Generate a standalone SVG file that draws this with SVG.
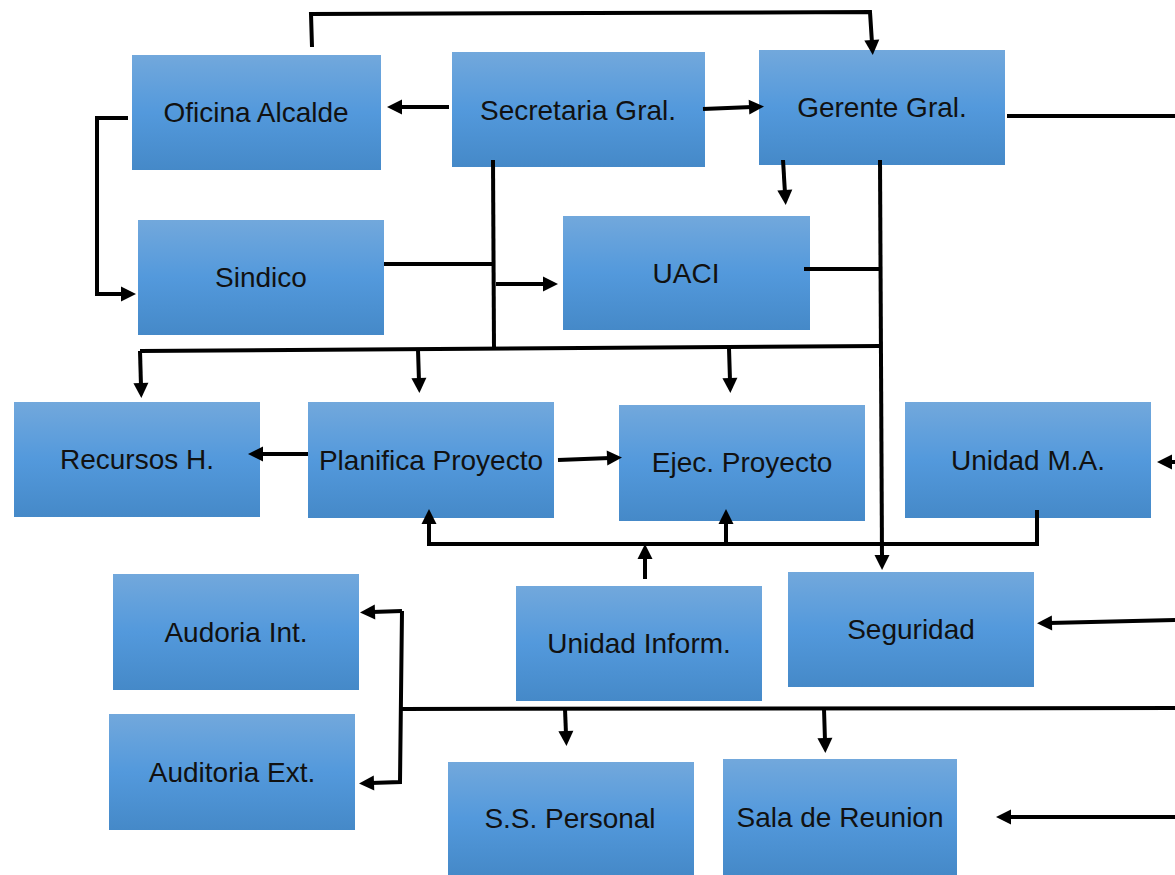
<svg xmlns="http://www.w3.org/2000/svg" width="1175" height="875" viewBox="0 0 1175 875">
<style>
.box{fill:url(#g);}
.t{font-family:"Liberation Sans",Arial,sans-serif;font-size:28px;fill:#111;text-anchor:middle;}
.c{fill:none;stroke:#000;stroke-width:4;}
.a{marker-end:url(#ah);}
</style>
<defs>
<linearGradient id="g" x1="0" y1="0" x2="0" y2="1">
<stop offset="0" stop-color="#72a8dc"/>
<stop offset="0.5" stop-color="#5399dc"/>
<stop offset="1" stop-color="#4589c8"/>
</linearGradient>
<marker id="ah" viewBox="0 0 10 10" refX="2" refY="5" markerWidth="15" markerHeight="15" markerUnits="userSpaceOnUse" orient="auto" overflow="visible">
<path d="M0,0 L10,5 L0,10 Z" fill="#000"/>
</marker>
</defs>
<rect width="1175" height="875" fill="#fff"/>
<g id="oficina"><rect class="box" x="132" y="55" width="249" height="115"/><text class="t" x="256" y="122">Oficina Alcalde</text></g>
<g id="secretaria"><rect class="box" x="452" y="52" width="253" height="115"/><text class="t" x="578" y="120">Secretaria Gral.</text></g>
<g id="gerente"><rect class="box" x="759" y="50" width="246" height="115"/><text class="t" x="882" y="117">Gerente Gral.</text></g>
<g id="sindico"><rect class="box" x="138" y="220" width="246" height="115"/><text class="t" x="261" y="287">Sindico</text></g>
<g id="uaci"><rect class="box" x="563" y="216" width="247" height="114"/><text class="t" x="686" y="283">UACI</text></g>
<g id="recursos"><rect class="box" x="14" y="402" width="246" height="115"/><text class="t" x="137" y="469">Recursos H.</text></g>
<g id="planifica"><rect class="box" x="308" y="402" width="246" height="116"/><text class="t" x="431" y="470">Planifica Proyecto</text></g>
<g id="ejec"><rect class="box" x="619" y="405" width="246" height="116"/><text class="t" x="742" y="472">Ejec. Proyecto</text></g>
<g id="unidadma"><rect class="box" x="905" y="402" width="246" height="116"/><text class="t" x="1028" y="470">Unidad M.A.</text></g>
<g id="audint"><rect class="box" x="113" y="574" width="246" height="116"/><text class="t" x="236" y="642">Audoria Int.</text></g>
<g id="audext"><rect class="box" x="109" y="714" width="246" height="116"/><text class="t" x="232" y="782">Auditoria Ext.</text></g>
<g id="inform"><rect class="box" x="516" y="586" width="246" height="115"/><text class="t" x="639" y="653">Unidad Inform.</text></g>
<g id="seguridad"><rect class="box" x="788" y="572" width="246" height="115"/><text class="t" x="911" y="639">Seguridad</text></g>
<g id="ssp"><rect class="box" x="448" y="762" width="246" height="113"/><text class="t" x="570" y="828">S.S. Personal</text></g>
<g id="sala"><rect class="box" x="723" y="759" width="234" height="116"/><text class="t" x="840" y="827">Sala de Reunion</text></g>
<g id="connectors">
<path class="c a" d="M312,47 L311,14 L870,12 L872,43"/>
<path class="c a" d="M449,107 L399,107"/>
<path class="c a" d="M703,109 L752,107"/>
<path class="c" d="M1007,116 L1175,116"/>
<path class="c a" d="M128,118 L97,118 L97,294 L124,294"/>
<path class="c" d="M384,264 L494,264"/>
<path class="c" d="M493,160 L494,348"/>
<path class="c a" d="M496,284 L546,284"/>
<path class="c a" d="M783,160 L785,193"/>
<path class="c a" d="M880,160 L882,558"/>
<path class="c" d="M804,269 L880,269"/>
<path class="c" d="M880,346 L140,351"/>
<path class="c a" d="M140,351 L141,386"/>
<path class="c a" d="M418,350 L419,381"/>
<path class="c a" d="M729,348 L730,381"/>
<path class="c a" d="M308,454 L260,454"/>
<path class="c a" d="M558,460 L610,458"/>
<path class="c a" d="M1037,510 L1037,544 L429,544 L429,521"/>
<path class="c a" d="M726,544 L726,521"/>
<path class="c a" d="M645,579 L645,556"/>
<path class="c a" d="M1175,462 L1169,462"/>
<path class="c a" d="M1175,620 L1049,623"/>
<path class="c" d="M402,709 L1175,708"/>
<path class="c a" d="M402,611 L400,782 L371,783"/>
<path class="c a" d="M402,611 L372,612"/>
<path class="c a" d="M565,709 L566,734"/>
<path class="c a" d="M824,709 L825,741"/>
<path class="c a" d="M1175,817 L1008,817"/>
</g>
</svg>
